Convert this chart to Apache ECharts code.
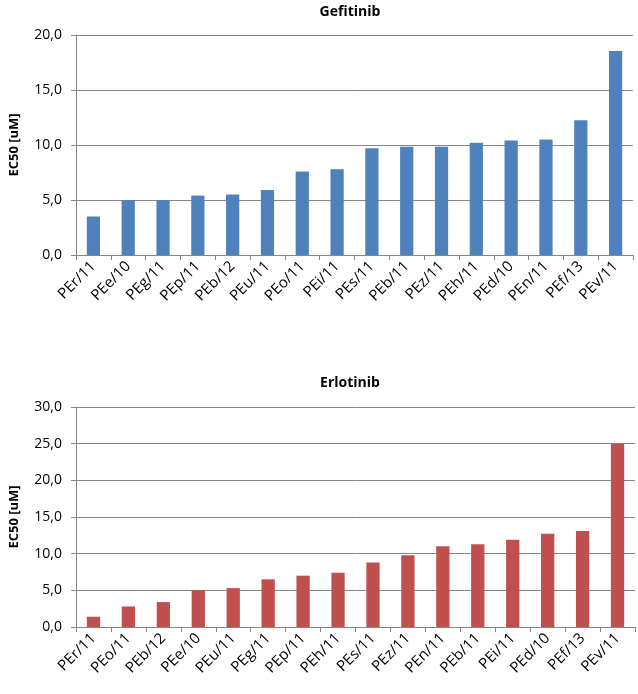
<!DOCTYPE html>
<html>
<head>
<meta charset="utf-8">
<script src="https://cdn.jsdelivr.net/npm/echarts@6/dist/echarts.min.js"></script>
<style>
html,body{margin:0;padding:0;background:#fff;}
#c{width:638px;height:694px;}
</style>
</head>
<body>
<div id="c"></div>
<script>
var gefTitle = 'Gefitinib';
var erlTitle = 'Erlotinib';
var yName = 'EC50 [uM]';
var gefCats = ['PEr/11','PEe/10','PEg/11','PEp/11','PEb/12','PEu/11','PEo/11','PEi/11','PEs/11','PEb/11','PEz/11','PEh/11','PEd/10','PEn/11','PEf/13','PEv/11'];
var gefVals = [3.5,5.0,5.0,5.4,5.5,5.9,7.6,7.8,9.7,9.85,9.85,10.2,10.4,10.5,12.25,18.55];
var erlCats = ['PEr/11','PEo/11','PEb/12','PEe/10','PEu/11','PEg/11','PEp/11','PEh/11','PEs/11','PEz/11','PEn/11','PEb/11','PEi/11','PEd/10','PEf/13','PEv/11'];
var erlVals = [1.4,2.8,3.4,5.0,5.3,6.5,7.0,7.4,8.8,9.8,11.0,11.3,11.9,12.7,13.1,25.0];
var gefTicks = {min:0, max:20, interval:5};
var erlTicks = {min:0, max:30, interval:5};

var FONT = 'Open Sans';
var axisGrey = '#868686';
function fmt(v){ return v.toFixed(1).replace('.', ','); }
function xAxis(idx, cats){
  return {
    type:'category', gridIndex:idx, data:cats, boundaryGap:true,
    axisLine:{lineStyle:{color:axisGrey,width:1}},
    axisTick:{show:true,length:5,lineStyle:{color:axisGrey}},
    axisLabel:{rotate:45, margin:9, color:'#000', fontFamily:FONT, fontSize:15, interval:0}
  };
}
function yAxis(idx, t){
  return {
    type:'value', gridIndex:idx, min:t.min, max:t.max, interval:t.interval,
    name:yName, nameLocation:'middle', nameGap:55, nameRotate:90,
    nameTextStyle:{color:'#000', fontFamily:FONT, fontSize:13, fontWeight:'bold'},
    axisLine:{show:true, lineStyle:{color:axisGrey,width:1}},
    axisTick:{show:true, length:5, lineStyle:{color:axisGrey}},
    splitLine:{show:true, lineStyle:{color:axisGrey,width:1}},
    axisLabel:{formatter:fmt, margin:14, color:'#000', fontFamily:FONT, fontSize:14}
  };
}
var chart = echarts.init(document.getElementById('c'), null, {renderer:'canvas'});
chart.setOption({
  animation:false,
  title:[
    {text:gefTitle, left:345, top:0, textAlign:'center', textStyle:{fontFamily:FONT, fontSize:14, fontWeight:'bold', color:'#000'}},
    {text:erlTitle, left:345, top:371, textAlign:'center', textStyle:{fontFamily:FONT, fontSize:14, fontWeight:'bold', color:'#000'}}
  ],
  grid:[
    {left:68, right:5, top:35, height:220},
    {left:67, right:3, top:407, height:220}
  ],
  xAxis:[xAxis(0, gefCats), xAxis(1, erlCats)],
  yAxis:[yAxis(0, gefTicks), yAxis(1, erlTicks)],
  series:[
    {type:'bar', xAxisIndex:0, yAxisIndex:0, data:gefVals, barWidth:'38%', itemStyle:{color:'#4F81BD'}},
    {type:'bar', xAxisIndex:1, yAxisIndex:1, data:erlVals, barWidth:'38%', itemStyle:{color:'#C0504D'}}
  ]
});
</script>
</body>
</html>
